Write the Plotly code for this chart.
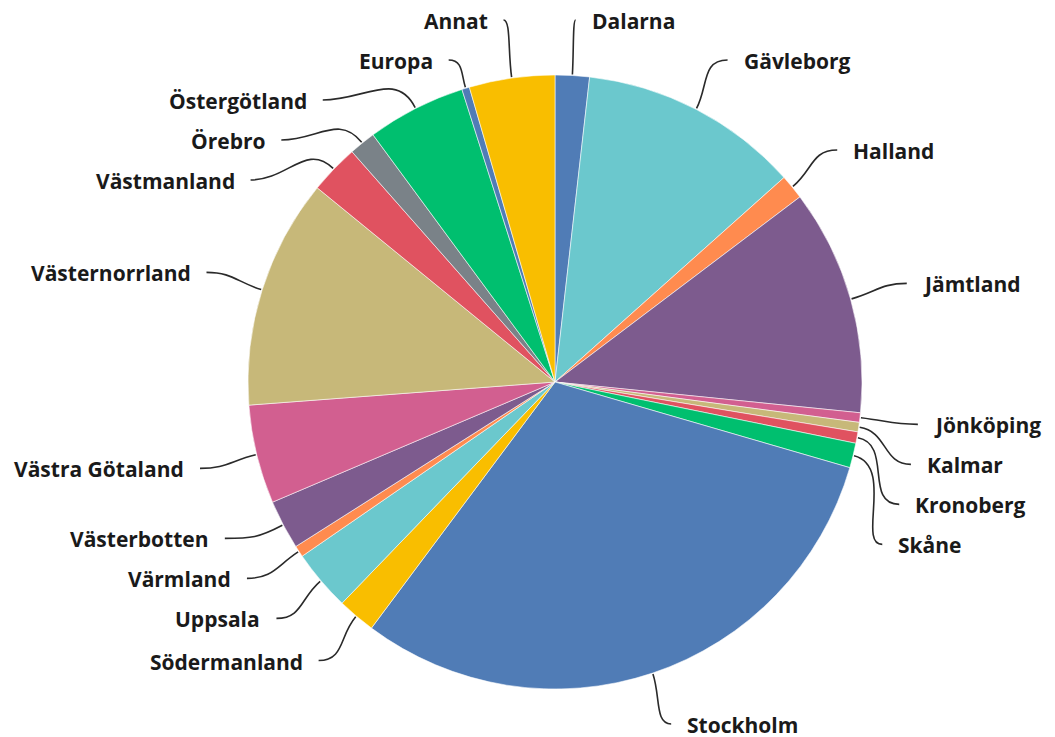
import math
import plotly.graph_objects as go

# ---- data -------------------------------------------------------------
regions = ["Dalarna", "Gävleborg", "Halland", "Jämtland", "Jönköping", "Kalmar",
           "Kronoberg", "Skåne", "Stockholm", "Södermanland", "Uppsala", "Värmland",
           "Västerbotten", "Västra Götaland", "Västernorrland", "Västmanland",
           "Örebro", "Östergötland", "Europa", "Annat"]
shares = [1.8, 11.6, 1.3, 11.9, 0.5, 0.5, 0.6, 1.3, 30.7, 2.0, 3.2, 0.6, 2.6,
          5.2, 12.1, 2.6, 1.4, 5.2, 0.4, 4.5]

# ---- style ------------------------------------------------------------
BLUE, TEAL, ORANGE, PURPLE = "#507cb6", "#6bc8cd", "#ff8b4f", "#7d5b8e"
PINK, KHAKI, RED, GREEN = "#d25f90", "#c7b879", "#e05260", "#00bf6f"
YELLOW, GREY = "#f9be00", "#7a8288"
slice_colors = [BLUE, TEAL, ORANGE, PURPLE, PINK, KHAKI, RED, GREEN, BLUE, YELLOW,
                TEAL, ORANGE, PURPLE, PINK, KHAKI, RED, GREY, GREEN, BLUE, YELLOW]

W, H = 1055, 737
OFF = 8                            # page margin around the plot div
CX, CY, R = 555, 382, 307          # pie centre / radius in page pixels
RL = R * 1.19                      # radius where leader lines end
GAP = 40                           # min vertical spacing between labels
YMIN, YMAX = 20, 724
TEXT_PAD = 14
FONT = dict(family="Open Sans", size=21, color="#1a1a1a")
LINE_COLOR = "#2a2a2a"


def px(x):
    return (x - OFF) / W


def py(y):
    return 1 - (y - OFF) / H


# ---- label layout computed from the slice angles -----------------------
total = sum(shares)
mids = []
acc = 0.0
for v in shares:
    mids.append((acc + v / 2) / total * 2 * math.pi)
    acc += v

nat = [(CX + RL * math.sin(a), CY - RL * math.cos(a)) for a in mids]
ylab = [p[1] for p in nat]
right = [i for i, a in enumerate(mids) if math.sin(a) >= 0]   # top -> bottom
left = [i for i, a in enumerate(mids) if math.sin(a) < 0]     # bottom -> top

prev = None
for i in right:
    if prev is not None:
        ylab[i] = max(ylab[i], ylab[prev] + GAP)
    prev = i
prev = None
for i in left:
    if prev is not None:
        ylab[i] = min(ylab[i], ylab[prev] - GAP)
    prev = i

clamped = set()
for side in (right, left):
    order = sorted(side, key=lambda k: ylab[k])
    prev = None
    for i in order:
        if ylab[i] < YMIN:
            ylab[i] = YMIN
            clamped.add(i)
        if prev is not None and ylab[i] < ylab[prev] + GAP:
            ylab[i] = ylab[prev] + GAP
        prev = i
    prev = None
    for i in reversed(order):
        if ylab[i] > YMAX:
            ylab[i] = YMAX
            clamped.add(i)
        if prev is not None and ylab[i] > ylab[prev] - GAP:
            ylab[i] = ylab[prev] - GAP
        prev = i

xlab = []
for i, a in enumerate(mids):
    sgn = 1 if math.sin(a) >= 0 else -1
    if i in clamped:
        xlab.append(nat[i][0])
    else:
        dy = ylab[i] - CY
        xlab.append(CX + sgn * math.sqrt(max(RL * RL - dy * dy, 0.0)))

shapes, annotations = [], []
for i, a in enumerate(mids):
    sgn = 1 if math.sin(a) >= 0 else -1
    ux, uy = math.sin(a), -math.cos(a)
    x0, y0 = CX + (R + 1) * ux, CY + (R + 1) * uy
    x3, y3 = xlab[i], ylab[i]
    d = math.hypot(x3 - x0, y3 - y0)
    k1 = 0.45 * d
    k2 = min(0.45 * d, 0.9 * abs(x3 - x0))
    x1, y1 = x0 + ux * k1, y0 + uy * k1
    x2, y2 = x3 - sgn * k2, y3
    path = (f"M {px(x0):.5f},{py(y0):.5f} C {px(x1):.5f},{py(y1):.5f} "
            f"{px(x2):.5f},{py(y2):.5f} {px(x3):.5f},{py(y3):.5f}")
    shapes.append(dict(type="path", path=path, xref="paper", yref="paper",
                       line=dict(color=LINE_COLOR, width=1.6), layer="above"))
    annotations.append(dict(
        x=px(x3 + sgn * TEXT_PAD), y=py(y3 + 1), xref="paper", yref="paper",
        text=f"<b>{regions[i]}</b>", showarrow=False,
        xanchor="left" if sgn > 0 else "right", yanchor="middle", font=FONT))

fig = go.Figure(go.Pie(
    labels=regions, values=shares, sort=False, direction="clockwise", rotation=0,
    marker=dict(colors=slice_colors, line=dict(color="rgba(255,255,255,0.7)", width=0.8)),
    textinfo="none", hoverinfo="label+percent", showlegend=False,
    domain=dict(x=[px(CX - R), px(CX + R)], y=[py(CY + R), py(CY - R)]),
))
fig.update_layout(width=W, height=H, margin=dict(l=0, r=0, t=0, b=0),
                  paper_bgcolor="white", plot_bgcolor="white",
                  shapes=shapes, annotations=annotations)
fig.write_html("out.html")
